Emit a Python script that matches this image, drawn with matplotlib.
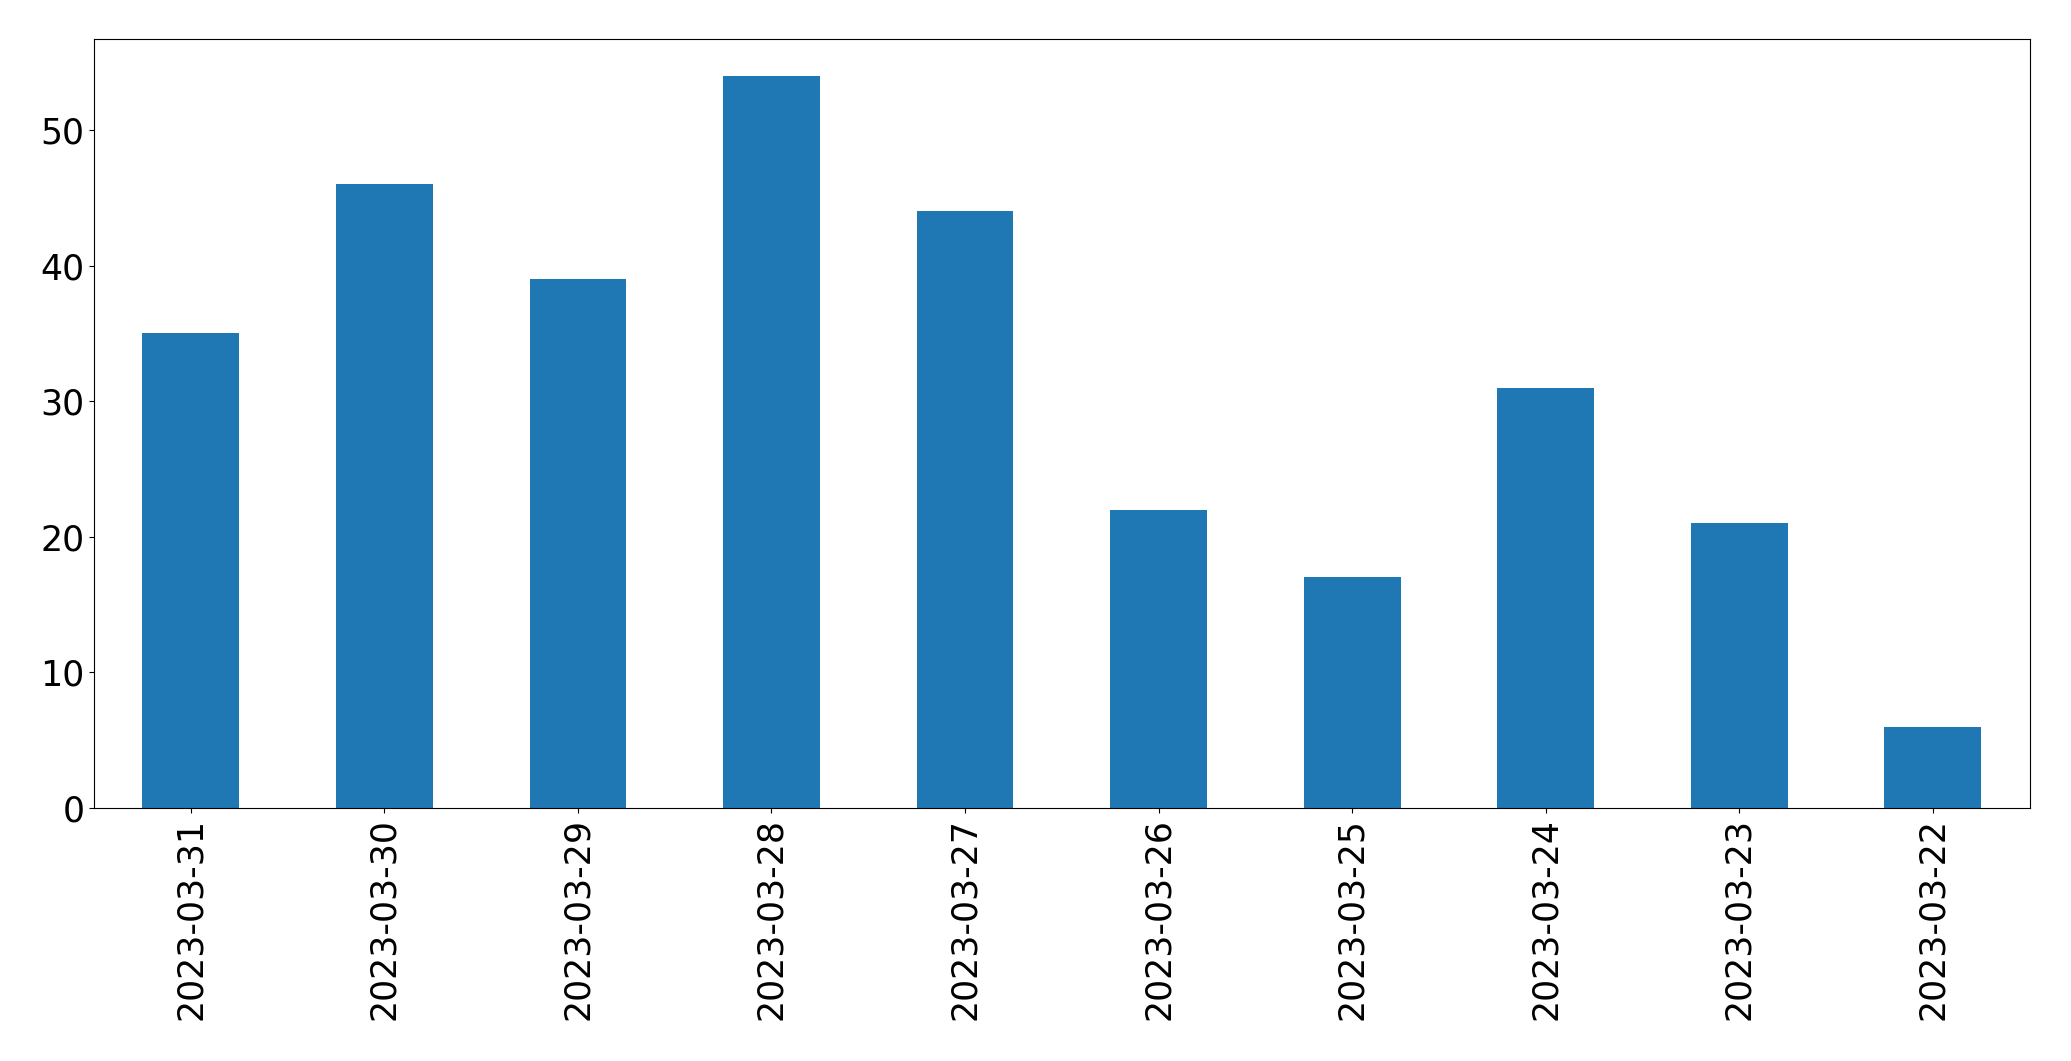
import matplotlib
matplotlib.use("Agg")
import matplotlib.pyplot as plt
import pandas as pd

dates = ["2023-03-31", "2023-03-30", "2023-03-29", "2023-03-28", "2023-03-27",
         "2023-03-26", "2023-03-25", "2023-03-24", "2023-03-23", "2023-03-22"]
counts = [35, 46, 39, 54, 44, 22, 17, 31, 21, 6]

s = pd.Series(counts, index=dates)

fig, ax = plt.subplots(figsize=(20.71, 10.61), dpi=100)
s.plot(kind="bar", ax=ax, color="#1f77b4", fontsize=25)
ax.set_xlabel("")
plt.subplots_adjust(left=0.0454, right=0.980, top=0.963, bottom=0.2385)
plt.savefig("out.png", dpi=100)
